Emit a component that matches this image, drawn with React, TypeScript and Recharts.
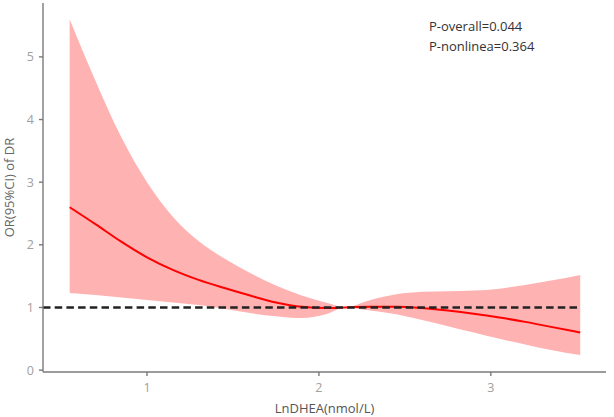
import React from "react";
import {
  ComposedChart,
  Area,
  Line,
  XAxis,
  YAxis,
  ReferenceLine,
  Label,
} from "recharts";

// LnDHEA values (x) and OR with 95% CI
const lnDhea = [0.55, 0.7, 0.85, 1.0, 1.15, 1.3, 1.45, 1.6, 1.75, 1.9, 2.05, 2.15, 2.3, 2.45, 2.6, 2.75, 2.9, 3.05, 3.2, 3.35, 3.52];
const orValue = [2.6, 2.33, 2.05, 1.8, 1.6, 1.44, 1.31, 1.19, 1.08, 1.01, 0.99, 1.0, 1.01, 1.01, 0.99, 0.95, 0.9, 0.84, 0.77, 0.69, 0.6];
const ciUpper = [5.6, 4.62, 3.72, 3.0, 2.45, 2.06, 1.78, 1.55, 1.35, 1.19, 1.07, 1.0, 1.12, 1.21, 1.25, 1.26, 1.27, 1.3, 1.36, 1.43, 1.52];
const ciLower = [1.23, 1.2, 1.16, 1.12, 1.08, 1.04, 0.98, 0.91, 0.86, 0.83, 0.9, 1.0, 0.95, 0.89, 0.8, 0.7, 0.6, 0.5, 0.41, 0.32, 0.24];

const xTicks = [1, 2, 3];
const yTicks = [0, 1, 2, 3, 4, 5];
const pLabels = ["P-overall=0.044", "P-nonlinea=0.364"];

const rows = lnDhea.map((x, i) => ({
  x,
  or: orValue[i],
  ci: [ciLower[i], ciUpper[i]],
}));

const font = "'Open Sans', sans-serif";
const axisColor = "#7a7a7a";
const tickStyle = { fill: "#a0a0a0", fontSize: 12.5, fontFamily: font };

export default function App() {
  return (
    <div style={{ position: "absolute", left: 0, top: 0, width: 614, height: 417, background: "#fff" }}>
      <ComposedChart
        width={614}
        height={417}
        data={rows}
        margin={{ top: 3, right: 8, bottom: 0, left: 0 }}
      >
        <XAxis
          dataKey="x"
          type="number"
          domain={[0.395, 3.67]}
          ticks={xTicks}
          height={45}
          tickSize={4}
          tickMargin={7}
          stroke={axisColor}
          strokeWidth={1.4}
          tick={tickStyle}
        >
          <Label
            value="LnDHEA(nmol/L)"
            position="insideBottom"
            offset={4}
            style={{ fill: "#555", fontSize: 13, fontFamily: font }}
          />
        </XAxis>
        <YAxis
          type="number"
          domain={[-0.03, 5.86]}
          ticks={yTicks}
          width={43}
          tickSize={4}
          tickMargin={5}
          stroke={axisColor}
          strokeWidth={1.4}
          tick={tickStyle}
        >
          <Label
            value="OR(95%CI) of DR"
            angle={-90}
            position="insideLeft"
            offset={9}
            style={{ fill: "#666", fontSize: 13, fontFamily: font, textAnchor: "middle" }}
          />
        </YAxis>
        <Area
          dataKey="ci"
          type="monotone"
          stroke="none"
          fill="#ff0000"
          fillOpacity={0.3}
          isAnimationActive={false}
        />
        <Line
          dataKey="or"
          type="monotone"
          stroke="#ff0000"
          strokeWidth={2}
          dot={false}
          isAnimationActive={false}
        />
        <ReferenceLine
          segment={[
            { x: 0.395, y: 1 },
            { x: 3.52, y: 1 },
          ]}
          stroke="#222"
          strokeWidth={2.6}
          strokeDasharray="7.5 4.2"
        />
      </ComposedChart>
      {pLabels.map((t, i) => (
        <div
          key={t}
          style={{
            position: "absolute",
            left: 429,
            top: 16 + i * 20,
            fontFamily: font,
            fontSize: 13,
            color: "#333",
            whiteSpace: "nowrap",
            lineHeight: "20px",
          }}
        >
          {t}
        </div>
      ))}
    </div>
  );
}
